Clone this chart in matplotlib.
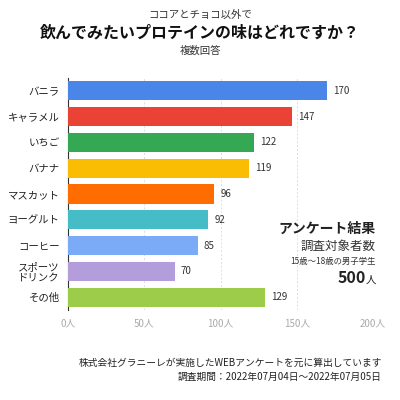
import matplotlib
matplotlib.use("Agg")
import matplotlib.pyplot as plt

plt.rcParams['font.family'] = ['Noto Sans CJK JP', 'DejaVu Sans']

categories = ["バニラ", "キャラメル", "いちご", "バナナ", "マスカット", "ヨーグルト", "コーヒー", "スポーツ\nドリンク", "その他"]
values = [170, 147, 122, 119, 96, 92, 85, 70, 129]
colors = ["#4a86e8", "#ea4335", "#34a853", "#fbbc04", "#ff6d01", "#46bdc6", "#7baaf7", "#b39ddb", "#9ccc4a"]
ticks = [0, 50, 100, 150, 200]

fig = plt.figure(figsize=(4, 4), dpi=100)
ax = fig.add_axes([0.17, 0.225, 0.7625, 0.58])
y = list(range(len(categories)))
ax.barh(y, values, color=colors, height=0.74, zorder=3)
ax.set_ylim(len(categories) - 0.5, -0.5)
ax.set_xlim(0, 200)
ax.set_yticks(y)
ax.set_yticklabels(categories, fontsize=7.5, color="#222222", linespacing=1.0)
ax.set_xticks(ticks)
ax.set_xticklabels([f"{t}人" for t in ticks], fontsize=7, color="#aaaaaa")
ax.tick_params(length=0, pad=6)
for s in ["top", "right", "bottom"]:
    ax.spines[s].set_visible(False)
ax.spines["left"].set_color("#333333")
ax.grid(axis="x", linestyle=(0, (2, 2)), color="#dddddd", linewidth=0.7, zorder=0)
for yi, v in zip(y, values):
    ax.text(v + 4, yi, str(v), va="center", ha="left", fontsize=7, color="#333333")

fig.text(0.5, 0.955, "ココアとチョコ以外で", ha="center", fontsize=7.5, color="#333333")
fig.text(0.5, 0.905, "飲んでみたいプロテインの味はどれですか？", ha="center", fontsize=11.5, weight="bold", color="#111111")
fig.text(0.5, 0.865, "複数回答", ha="center", fontsize=7.5, color="#333333")

fig.text(0.94, 0.418, "アンケート結果", ha="right", fontsize=10, weight="bold", color="#222222")
fig.text(0.94, 0.375, "調査対象者数", ha="right", fontsize=9, color="#333333")
fig.text(0.94, 0.34, "15歳〜18歳の男子学生", ha="right", fontsize=6, color="#333333")
fig.text(0.915, 0.292, "500", ha="right", fontsize=11.5, weight="bold", color="#222222")
fig.text(0.94, 0.292, "人", ha="right", fontsize=7.5, color="#222222")

fig.text(0.955, 0.085, "株式会社グラニーレが実施したWEBアンケートを元に算出しています", ha="right", fontsize=7, color="#222222")
fig.text(0.955, 0.05, "調査期間：2022年07月04日〜2022年07月05日", ha="right", fontsize=7, color="#222222")

fig.savefig("out.png", dpi=100, facecolor="white")
